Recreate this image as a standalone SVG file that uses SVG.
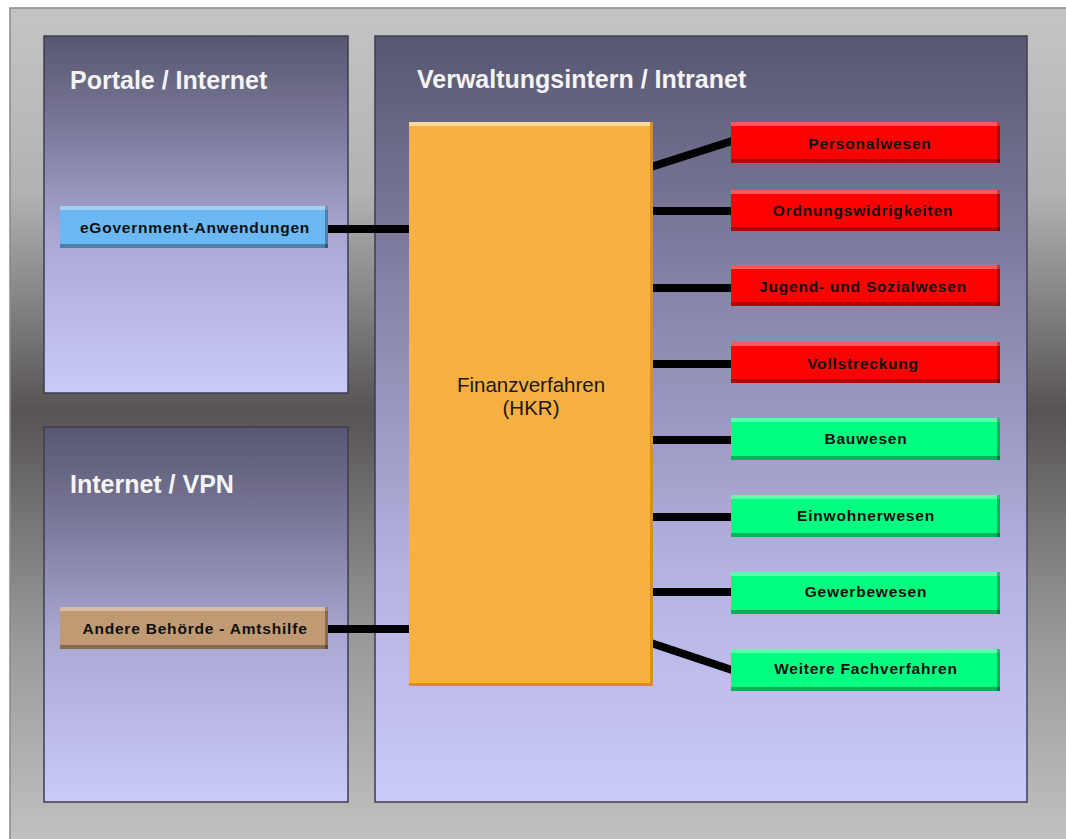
<svg xmlns="http://www.w3.org/2000/svg" width="1066" height="839" viewBox="0 0 1066 839">
<defs>
<linearGradient id="bg" x1="0" y1="0" x2="0" y2="1">
<stop offset="0" stop-color="#c4c4c4"/>
<stop offset="0.22" stop-color="#b2b2b2"/>
<stop offset="0.48" stop-color="#575353"/>
<stop offset="0.75" stop-color="#999999"/>
<stop offset="1" stop-color="#c2c2c2"/>
</linearGradient>
<linearGradient id="panel" x1="0" y1="0" x2="0" y2="1">
<stop offset="0" stop-color="#575770"/>
<stop offset="0.25" stop-color="#7a7898"/>
<stop offset="0.55" stop-color="#a9a7d2"/>
<stop offset="1" stop-color="#cacaf8"/>
</linearGradient>
<linearGradient id="panelS" x1="0" y1="0" x2="0" y2="1">
<stop offset="0" stop-color="#575770"/>
<stop offset="0.35" stop-color="#8886aa"/>
<stop offset="0.7" stop-color="#b4b2e0"/>
<stop offset="1" stop-color="#cacaf8"/>
</linearGradient>
<style>
.frame{fill:url(#bg);stroke:#8a8a8a;stroke-width:1.5}
.pnl{stroke:#3c3c52;stroke-width:1.5}
.title{font-family:"Liberation Sans",Arial,sans-serif;font-weight:bold;font-size:25px;fill:#f4f4f4}
.lbl{font-family:"Liberation Sans",Arial,sans-serif;font-weight:bold;font-size:15.5px;letter-spacing:0.8px;fill:#101010;text-anchor:middle}
.main{font-family:"Liberation Sans",Arial,sans-serif;font-size:20.5px;fill:#1a1a1a;text-anchor:middle}
.hl{fill:#ffffff;opacity:0.35}
.sh{fill:#000000;opacity:0.3}
.red{fill:#ff0000}
.green{fill:#00ff80}
.conn line{stroke:#000;stroke-width:8}
</style>
</defs>
<rect class="frame" x="10" y="8" width="1070" height="840"/>
<g id="panel-portale">
<rect class="pnl" x="44" y="36" width="304" height="357" fill="url(#panel)"/>
<text class="title" x="70" y="89">Portale / Internet</text>
</g>
<g id="panel-vpn">
<rect class="pnl" x="44" y="427" width="304" height="375" fill="url(#panel)"/>
<text class="title" x="70" y="493">Internet / VPN</text>
</g>
<g id="panel-intranet">
<rect class="pnl" x="375" y="36" width="652" height="766" fill="url(#panelS)"/>
<text class="title" x="417" y="88">Verwaltungsintern / Intranet</text>
</g>
<g class="conn" id="connectors">
<line x1="328" y1="229" x2="411" y2="229"/>
<line x1="328" y1="629" x2="411" y2="629"/>
<line x1="651" y1="167" x2="732" y2="141"/>
<line x1="651" y1="211" x2="732" y2="211"/>
<line x1="651" y1="288" x2="732" y2="288"/>
<line x1="651" y1="364" x2="732" y2="364"/>
<line x1="651" y1="440" x2="732" y2="440"/>
<line x1="651" y1="517" x2="732" y2="517"/>
<line x1="651" y1="592" x2="732" y2="592"/>
<line x1="651" y1="643" x2="732" y2="670"/>
</g>
<g id="node-hkr">
<rect x="409" y="122" width="244" height="564" fill="#f8b042"/>
<rect x="409" y="122" width="244" height="4" fill="#ffd89a"/>
<rect x="650" y="122" width="3" height="564" fill="#d88e28"/>
<rect x="409" y="683" width="244" height="3" fill="#d88e28"/>
<text class="main" x="531" y="392">Finanzverfahren</text>
<text class="main" x="531" y="415">(HKR)</text>
</g>
<g id="node-egov">
<rect x="60" y="206" width="268" height="42" fill="#6cb8f4"/>
<rect class="hl" x="60" y="206" width="268" height="4"/>
<rect class="sh" x="60" y="244" width="268" height="4"/>
<rect class="sh" x="325" y="206" width="3" height="42"/>
<text class="lbl" x="195" y="233">eGovernment-Anwendungen</text>
</g>
<g id="node-amtshilfe">
<rect x="60" y="607" width="268" height="42" fill="#c09a72"/>
<rect class="hl" x="60" y="607" width="268" height="4"/>
<rect class="sh" x="60" y="645" width="268" height="4"/>
<rect class="sh" x="325" y="607" width="3" height="42"/>
<text class="lbl" x="195" y="634">Andere Behörde - Amtshilfe</text>
</g>
<g id="node-personal">
<rect class="red" x="731" y="122" width="269" height="41"/>
<rect class="hl" x="731" y="122" width="269" height="4"/>
<rect class="sh" x="731" y="159" width="269" height="4"/>
<rect class="sh" x="997" y="122" width="3" height="41"/>
<text class="lbl" x="870" y="149">Personalwesen</text>
</g>
<g id="node-ordnung">
<rect class="red" x="731" y="190" width="269" height="41"/>
<rect class="hl" x="731" y="190" width="269" height="4"/>
<rect class="sh" x="731" y="227" width="269" height="4"/>
<rect class="sh" x="997" y="190" width="3" height="41"/>
<text class="lbl" x="863" y="216">Ordnungswidrigkeiten</text>
</g>
<g id="node-jugend">
<rect class="red" x="731" y="265" width="269" height="41"/>
<rect class="hl" x="731" y="265" width="269" height="4"/>
<rect class="sh" x="731" y="302" width="269" height="4"/>
<rect class="sh" x="997" y="265" width="3" height="41"/>
<text class="lbl" x="863" y="292">Jugend- und Sozialwesen</text>
</g>
<g id="node-vollstreckung">
<rect class="red" x="731" y="342" width="269" height="41"/>
<rect class="hl" x="731" y="342" width="269" height="4"/>
<rect class="sh" x="731" y="379" width="269" height="4"/>
<rect class="sh" x="997" y="342" width="3" height="41"/>
<text class="lbl" x="863" y="369">Vollstreckung</text>
</g>
<g id="node-bau">
<rect class="green" x="731" y="418" width="269" height="42"/>
<rect class="hl" x="731" y="418" width="269" height="4"/>
<rect class="sh" x="731" y="456" width="269" height="4"/>
<rect class="sh" x="997" y="418" width="3" height="42"/>
<text class="lbl" x="866" y="444">Bauwesen</text>
</g>
<g id="node-einwohner">
<rect class="green" x="731" y="495" width="269" height="42"/>
<rect class="hl" x="731" y="495" width="269" height="4"/>
<rect class="sh" x="731" y="533" width="269" height="4"/>
<rect class="sh" x="997" y="495" width="3" height="42"/>
<text class="lbl" x="866" y="521">Einwohnerwesen</text>
</g>
<g id="node-gewerbe">
<rect class="green" x="731" y="572" width="269" height="42"/>
<rect class="hl" x="731" y="572" width="269" height="4"/>
<rect class="sh" x="731" y="610" width="269" height="4"/>
<rect class="sh" x="997" y="572" width="3" height="42"/>
<text class="lbl" x="866" y="597">Gewerbewesen</text>
</g>
<g id="node-weitere">
<rect class="green" x="731" y="649" width="269" height="42"/>
<rect class="hl" x="731" y="649" width="269" height="4"/>
<rect class="sh" x="731" y="687" width="269" height="4"/>
<rect class="sh" x="997" y="649" width="3" height="42"/>
<text class="lbl" x="866" y="674">Weitere Fachverfahren</text>
</g>
</svg>
